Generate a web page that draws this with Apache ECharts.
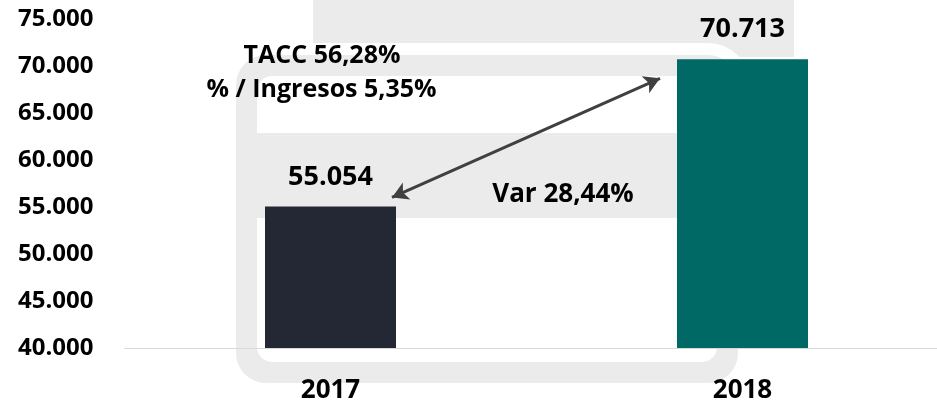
<!DOCTYPE html>
<html>
<head>
<meta charset="utf-8">
<script src="https://cdn.jsdelivr.net/npm/echarts@6/dist/echarts.min.js"></script>
<style>
html,body{margin:0;padding:0;background:#fff;}
#c{width:937px;height:402px;}
</style>
</head>
<body>
<div id="c"></div>
<script>
const categories = ['2017', '2018'];
const values = [55054, 70713];
const barColors = ['#232834', '#006865'];
const yMin = 40000, yMax = 75000, yStep = 5000;
const noteTacc = 'TACC 56,28%';
const noteIngresos = '% / Ingresos 5,35%';
const noteVar = 'Var 28,44%';

const FONT = '"Open Sans", sans-serif';
const GRAY = '#EBEBEB';

function fmt(v) {
  return String(v).replace(/\B(?=(\d{3})+(?!\d))/g, '.');
}

const chart = echarts.init(document.getElementById('c'), null, {renderer: 'canvas'});

const watermark = [
  {type: 'rect', shape: {x: 313, y: 0, width: 481, height: 57}, style: {fill: GRAY}, z: -10, silent: true},
  {type: 'rect', shape: {x: 224, y: 43, width: 526, height: 352, r: 42}, style: {fill: '#fff'}, z: -9, silent: true},
  {type: 'rect', shape: {x: 236, y: 55, width: 502, height: 328, r: 30}, style: {fill: GRAY}, z: -8, silent: true},
  {type: 'rect', shape: {x: 257, y: 76, width: 460, height: 286, r: 15}, style: {fill: '#fff'}, z: -7, silent: true},
  {type: 'rect', shape: {x: 257, y: 133, width: 460, height: 85}, style: {fill: GRAY}, z: -6, silent: true}
];

chart.setOption({
  animation: false,
  grid: {left: 124.5, top: 19, width: 824, bottom: 54, containLabel: false, outerBoundsMode: 'none'},
  xAxis: {
    type: 'category',
    data: categories,
    axisLine: {show: true, lineStyle: {color: '#D9D9D9', width: 1}},
    axisTick: {show: false},
    axisLabel: {color: '#000', fontFamily: FONT, fontWeight: 'bold', fontSize: 26, margin: 30}
  },
  yAxis: {
    type: 'value',
    min: yMin, max: yMax, interval: yStep,
    splitLine: {show: false},
    axisLine: {show: false},
    axisTick: {show: false},
    axisLabel: {color: '#000', fontFamily: FONT, fontWeight: 'bold', fontSize: 24, margin: 31,
      formatter: v => fmt(v)}
  },
  graphic: watermark,
  series: [{
    type: 'bar',
    barWidth: 131,
    data: values.map((v, i) => ({value: v, itemStyle: {color: barColors[i]}})),
    label: {show: true, position: 'top', distance: 16, color: '#000', fontFamily: FONT,
      fontWeight: 'bold', fontSize: 27, formatter: p => fmt(p.value)},
    z: 2
  }]
});

// annotations placed relative to the bars
const p0 = chart.convertToPixel({seriesIndex: 0}, [categories[0], values[0]]);
const p1 = chart.convertToPixel({seriesIndex: 0}, [categories[1], values[1]]);
const half = 65.5;
const start = [p0[0] + half - 4, p0[1] - 9];
const end = [p1[0] - half - 17, p1[1] + 19];

chart.setOption({
  graphic: watermark.concat([
    {type: 'text', x: 322, y: 56, style: {text: noteTacc, fill: '#000', font: 'bold 25px ' + FONT, align: 'center', verticalAlign: 'middle'}, z: 10},
    {type: 'text', x: 321.5, y: 90, style: {text: noteIngresos, fill: '#000', font: 'bold 25px ' + FONT, align: 'center', verticalAlign: 'middle'}, z: 10},
    {type: 'text', x: 563, y: 195, style: {text: noteVar, fill: '#000', font: 'bold 26px ' + FONT, align: 'center', verticalAlign: 'middle'}, z: 10}
  ]),
  series: [{
    markLine: {
      silent: true,
      symbol: ['arrow', 'arrow'],
      symbolSize: [14, 16],
      label: {show: false},
      lineStyle: {color: '#404040', width: 3, type: 'solid'},
      data: [[{x: start[0], y: start[1]}, {x: end[0], y: end[1]}]]
    }
  }]
});
</script>
</body>
</html>
